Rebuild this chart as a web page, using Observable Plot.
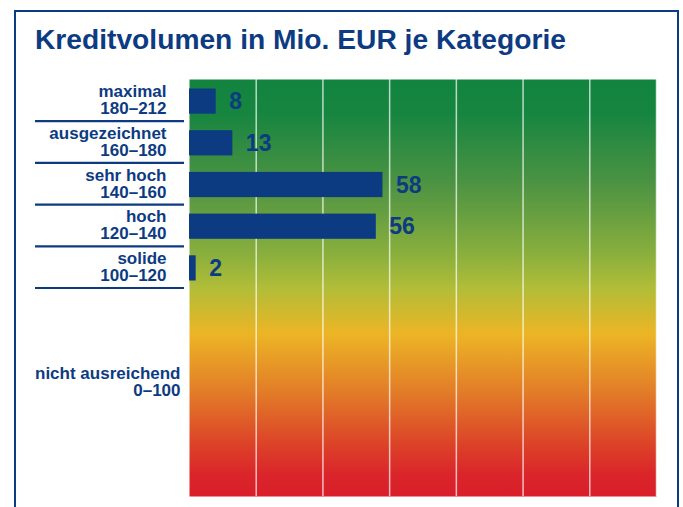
<!DOCTYPE html>
<html>
<head>
<meta charset="utf-8">
<script src="https://cdn.jsdelivr.net/npm/d3@7"></script>
<script src="https://cdn.jsdelivr.net/npm/@observablehq/plot@0.6"></script>
<style>
  html, body { margin: 0; padding: 0; background: #fff; }
  #page { position: relative; width: 683px; height: 507px; overflow: hidden; }
  #box { position: absolute; left: 14px; top: 10px; width: 661px; height: 520px;
         border: 2px solid #0d3b82; border-bottom: none; pointer-events: none; }
  #title { height: 60px; box-sizing: border-box; padding-left: 35px; padding-top: 25.4px;
           font: bold 28.2px "Liberation Sans", Arial, sans-serif; line-height: 28px;
           color: #0d3b82; white-space: nowrap; }
  svg { display: block; }
</style>
</head>
<body>
<div id="page">
  <div id="title">Kreditvolumen in Mio. EUR je Kategorie</div>
  <div id="chart"></div>
  <div id="box"></div>
</div>
<script>
// Categories (top to bottom)
const categories = ["maximal", "ausgezeichnet", "sehr hoch", "hoch", "solide"];
const ranges     = ["180–212", "160–180", "140–160", "120–140", "100–120"];
const values     = [8, 13, 58, 56, 2];
// band bounds on the score axis
const bandLo     = [180, 160, 140, 120, 100];
const bandHi     = [200, 180, 160, 140, 120];
// lowest band (no bar)
const lowCategory = "nicht ausreichend";
const lowRange    = "0–100";
const lowLo = 0, lowHi = 100;
// grid ticks on volume axis
const gridTicks = [20, 40, 60, 80, 100, 120, 140];
const xMax = 140, yMax = 200;

const rows = categories.map((c, i) => ({
  cat: c, range: ranges[i], value: values[i], lo: bandLo[i], hi: bandHi[i]
}));
const lowRow = [{cat: lowCategory, range: lowRange, lo: lowLo, hi: lowHi}];

const blue = "#0d3b82";
const font = "Liberation Sans, Arial, sans-serif";

const plot = Plot.plot({
  width: 683,
  height: 447,
  marginLeft: 189,
  marginRight: 27,
  marginTop: 19,
  marginBottom: 11,
  style: {fontFamily: font, background: "transparent", overflow: "visible"},
  x: {domain: [0, xMax], axis: null},
  y: {domain: [0, yMax], axis: null},
  marks: [
    Plot.frame({fill: "url(#bgGrad)", stroke: null}),
    Plot.ruleX(gridTicks, {x: d => d, stroke: "#ffffff", strokeOpacity: 0.7, strokeWidth: 1.5}),
    Plot.rectX(rows, {x1: 0, x2: "value", y1: "lo", y2: "hi", insetTop: 9.5, insetBottom: 7, fill: blue}),
    Plot.text(rows, {x: "value", y: d => (d.lo + d.hi) / 2, text: d => String(d.value),
      dx: 13, dy: 1.5, textAnchor: "start", fill: blue, fontSize: 23, fontWeight: "bold"}),
    Plot.ruleY(rows, {y: "lo", stroke: blue, strokeWidth: 2.2, insetLeft: -154, insetRight: 472}),
    Plot.text(rows, {y: d => (d.lo + d.hi) / 2, frameAnchor: "left", dx: -23,
      text: d => d.cat + "\n" + d.range, textAnchor: "end", lineHeight: 1,
      fill: blue, fontSize: 17, fontWeight: "bold", letterSpacing: "0.2px"}),
    Plot.text(lowRow, {y: d => (d.lo + d.hi) / 2, frameAnchor: "left", dx: -9, dy: -10,
      text: d => d.cat + "\n" + d.range, textAnchor: "end", lineHeight: 1,
      fill: blue, fontSize: 17, fontWeight: "bold", letterSpacing: "0.2px"})
  ]
});

const defs = d3.select(plot).insert("defs", ":first-child");
const grad = defs.append("linearGradient")
  .attr("id", "bgGrad").attr("x1", 0).attr("y1", 0).attr("x2", 0).attr("y2", 1);
[
  [0.00, "#12843f"],
  [0.08, "#168540"],
  [0.25, "#4d9343"],
  [0.42, "#8aaf3d"],
  [0.50, "#b1bd38"],
  [0.61, "#ecb525"],
  [0.75, "#e27c28"],
  [0.88, "#dc4028"],
  [0.95, "#da242a"],
  [1.00, "#d91f2a"]
].forEach(([o, c]) => grad.append("stop").attr("offset", o).attr("stop-color", c));

document.getElementById("chart").appendChild(plot);
</script>
</body>
</html>
